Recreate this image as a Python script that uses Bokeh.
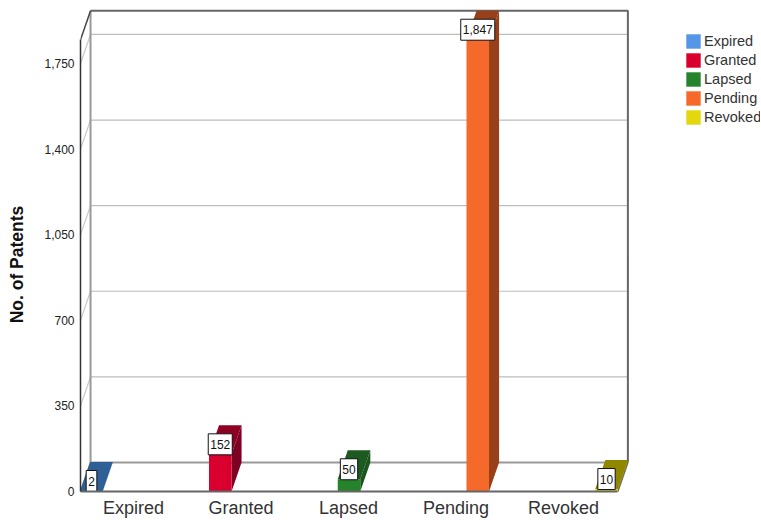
from bokeh.plotting import figure
from bokeh.embed import file_html
from bokeh.resources import INLINE
from bokeh.models import (ColumnDataSource, FixedTicker, Legend, LegendItem,
                          Range1d, NumeralTickFormatter)
from bokeh.core.properties import value

categories = ["Expired", "Granted", "Lapsed", "Pending", "Revoked"]
patents = [2, 152, 50, 1847, 10]
value_labels = ["2", "152", "50", "1,847", "10"]
y_ticks = [0, 350, 700, 1050, 1400, 1750]
front_colors = ["#5596E6", "#D9002F", "#27822C", "#F5692B", "#E3D70E"]
top_colors = ["#2F5F96", "#8E0024", "#1C5A20", "#97401A", "#8F8700"]
side_colors = ["#2F5F96", "#7E0022", "#1B551E", "#97401A", "#8F8700"]

FONT = "Liberation Sans"
# drawing geometry, in axis units
bar_width = 0.175
depth_x = 0.078
depth_y = 118.6
y_top = max(patents)
x_left, x_right = -0.0854, 4.088
label_positions = [0.326, 1.161, 1.996, 2.831, 3.666]

p = figure(width=760, height=520, output_backend="svg", toolbar_location=None,
           x_range=Range1d(x_left, 5.196), y_range=Range1d(-118.6, 1974.7),
           min_border_left=80, min_border_right=0, min_border_top=8, min_border_bottom=0)
p.outline_line_color = None
p.background_fill_color = "white"
p.xgrid.visible = False
p.ygrid.visible = False

# x axis
ax = p.xaxis[0]
ax.fixed_location = 0
ax.ticker = FixedTicker(ticks=label_positions)
ax.major_label_overrides = {t: c for t, c in zip(label_positions, categories)}
ax.major_tick_line_color = None
ax.minor_tick_line_color = None
ax.major_tick_out = 0
ax.major_tick_in = 0
ax.minor_tick_out = 0
ax.major_label_standoff = 7
ax.major_label_text_font = FONT
ax.major_label_text_font_size = "18px"
ax.major_label_text_color = "#333333"
ax.axis_line_color = "#666666"
ax.axis_line_width = 2
ax.bounds = (x_left, x_right)

# y axis
ay = p.yaxis[0]
ay.ticker = FixedTicker(ticks=y_ticks)
ay.formatter = NumeralTickFormatter(format="0,0")
ay.major_tick_line_color = None
ay.minor_tick_line_color = None
ay.major_tick_out = 0
ay.major_tick_in = 0
ay.minor_tick_out = 0
ay.major_label_standoff = 6
ay.major_label_text_font = FONT
ay.major_label_text_font_size = "12px"
ay.major_label_text_color = "#222222"
ay.axis_line_color = "#333333"
ay.axis_line_width = 1.5
ay.bounds = (0, y_top)
ay.axis_label = "No. of Patents"
ay.axis_label_standoff = 14
ay.axis_label_text_font = FONT
ay.axis_label_text_font_style = "bold"
ay.axis_label_text_font_size = "17.5px"
ay.axis_label_text_color = "#111111"

# grid on back wall and side wall
n = len(y_ticks)
p.segment([x_left + depth_x] * n, [t + depth_y for t in y_ticks],
          [x_right + depth_x] * n, [t + depth_y for t in y_ticks],
          line_color="#BDBDBD", line_width=1.2)
p.segment([x_left] * n, y_ticks, [x_left + depth_x] * n, [t + depth_y for t in y_ticks],
          line_color="#C8C8C8", line_width=1.2)

# walls
p.line([x_left + depth_x] * 2, [depth_y, y_top + depth_y], line_color="#999999", line_width=2)
p.line([x_left + depth_x, x_right + depth_x], [depth_y, depth_y], line_color="#999999", line_width=2)
p.line([x_left + depth_x, x_right + depth_x, x_right + depth_x],
       [y_top + depth_y, y_top + depth_y, depth_y], line_color="#666666", line_width=2)
p.line([x_left, x_left + depth_x], [y_top, y_top + depth_y], line_color="#444444", line_width=1.5)
p.line([x_left, x_left + depth_x], [0, depth_y], line_color="#666666", line_width=1.5)
p.line([x_right, x_right + depth_x], [0, depth_y], line_color="#666666", line_width=1.5)

# bars
pos = list(range(len(categories)))
src = ColumnDataSource(dict(x=pos, top=patents, color=front_colors, label=value_labels))
hw = bar_width / 2
top_xs = [[i - hw, i + hw, i + hw + depth_x, i - hw + depth_x] for i in pos]
top_ys = [[v, v, v + depth_y, v + depth_y] for v in patents]
side_xs = [[i + hw, i + hw + depth_x, i + hw + depth_x, i + hw] for i in pos]
side_ys = [[0, depth_y, v + depth_y, v] for v in patents]
p.patches(side_xs, side_ys, fill_color=side_colors, line_color=None)
p.patches(top_xs, top_ys, fill_color=top_colors, line_color=None)
bars = p.vbar(x="x", top="top", width=bar_width, bottom=0, source=src,
              fill_color="color", line_color=None)

# value labels
p.text(x="x", y="top", text="label", source=src, y_offset=-10,
       text_align="center", text_baseline="middle",
       text_font=value(FONT), text_font_size="12px", text_color="#111111",
       background_fill_color="white", border_line_color="#111111", border_line_width=1,
       padding=(2, 6))

# legend
legend = Legend(items=[LegendItem(label=c, renderers=[bars], index=i) for i, c in enumerate(categories)],
                location=(604, 394), orientation="vertical", padding=0, margin=0, spacing=1,
                glyph_width=18, glyph_height=18, label_height=14, label_standoff=2,
                label_text_font=FONT, label_text_font_size="14.5px", label_text_color="#333333",
                border_line_color=None, background_fill_color=None, background_fill_alpha=0)
p.add_layout(legend)

open("out.html", "w").write(file_html(p, INLINE))
